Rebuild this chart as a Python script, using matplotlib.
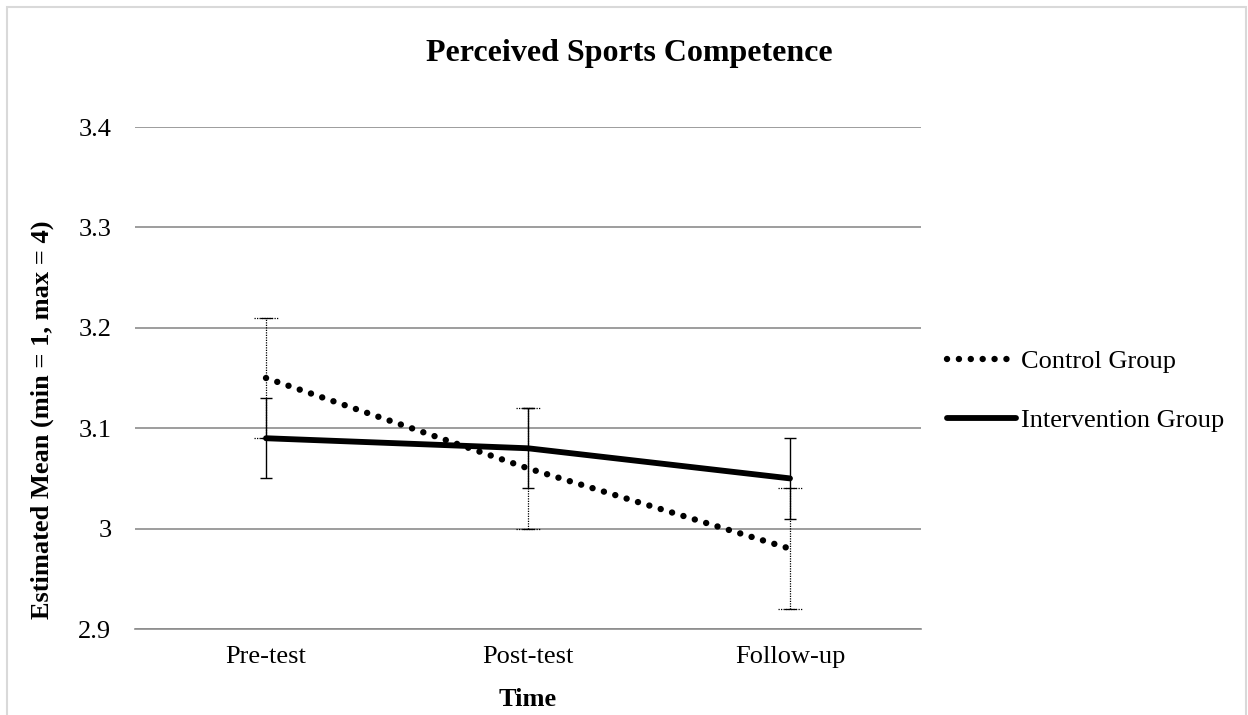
import matplotlib.pyplot as plt
from matplotlib.patches import Rectangle

# data
times = ["Pre-test", "Post-test", "Follow-up"]
control_mean = [3.15, 3.06, 2.98]
control_err = [0.06, 0.06, 0.06]
interv_mean = [3.09, 3.08, 3.05]
interv_err = [0.04, 0.04, 0.04]
y_ticks = [2.9, 3.0, 3.1, 3.2, 3.3, 3.4]
y_tick_labels = ["2.9", "3", "3.1", "3.2", "3.3", "3.4"]

plt.rcParams['font.family'] = ['Liberation Serif', 'DejaVu Serif']

fig = plt.figure(figsize=(12.48, 7.15), dpi=100)
ax = fig.add_axes([135 / 1248, 1 - 629 / 715, (921 - 135) / 1248, (629 - 127) / 715])

x = list(range(len(times)))

# control group, dotted
eb = ax.errorbar(x, control_mean, yerr=control_err, fmt='none', ecolor='black',
                 elinewidth=0.9, capsize=4.5, capthick=0.9, zorder=3)
eb[2][0].set_linestyle((0, (1, 1)))
for cap in eb[1]:
    cap.set_linestyle('none')
ax.plot(x, control_mean, color='black', linewidth=4.6,
        linestyle=(0, (0.01, 1.85)), dash_capstyle='round',
        label='Control Group', zorder=4)
# dotted caps for control
cap_w = 0.045
for xi, m, e in zip(x, control_mean, control_err):
    for yy in (m - e, m + e):
        ax.plot([xi - cap_w, xi + cap_w], [yy, yy], color='black',
                linewidth=0.9, linestyle=(0, (1, 1)), zorder=3)

# intervention group, solid
ax.errorbar(x, interv_mean, yerr=interv_err, fmt='none', ecolor='black',
            elinewidth=1.0, capsize=4.5, capthick=1.0, zorder=3)
ax.plot(x, interv_mean, color='black', linewidth=4.2, solid_capstyle='round',
        label='Intervention Group', zorder=4)

ax.set_xlim(-0.5, 2.5)
ax.set_ylim(2.9, 3.4)
ax.set_yticks(y_ticks)
ax.set_yticklabels(y_tick_labels)
ax.set_xticks(x)
ax.set_xticklabels(times)
ax.yaxis.grid(True, color='#8c8c8c', linewidth=1.2)
ax.set_axisbelow(True)
for s in ['top', 'right', 'left']:
    ax.spines[s].set_visible(False)
ax.spines['bottom'].set_color('#8c8c8c')
ax.spines['bottom'].set_linewidth(1.2)
ax.tick_params(axis='both', length=0, labelsize=19)
ax.tick_params(axis='y', pad=17)
ax.tick_params(axis='x', pad=12)

ax.set_xlabel('Time', fontsize=19, fontweight='bold', va='center')
ax.xaxis.set_label_coords(0.5, (629 - 700) / 502)
ax.set_ylabel('Estimated Mean (min = 1, max = 4)', fontsize=19,
              fontweight='bold', va='center')
ax.yaxis.set_label_coords((42 - 135) / 786, (629 - 420) / 502)
fig.text(629 / 1248, 1 - 53 / 715, 'Perceived Sports Competence', fontsize=23,
         fontweight='bold', ha='center', va='center')

ax.legend(loc='center left', bbox_to_anchor=(1.02, 0.475), frameon=False,
          fontsize=19, handlelength=2.6, handletextpad=0.2, labelspacing=1.35,
          borderaxespad=0)

# light chart border (bottom edge sits off the image, as in the reference)
fig.patches.append(Rectangle((7 / 1248, -10 / 715), 1 - 9 / 1248, 1 - 7 / 715 + 10 / 715,
                             transform=fig.transFigure, fill=False,
                             edgecolor='#d9d9d9', linewidth=1.5))

fig.savefig('out.png', dpi=100)
